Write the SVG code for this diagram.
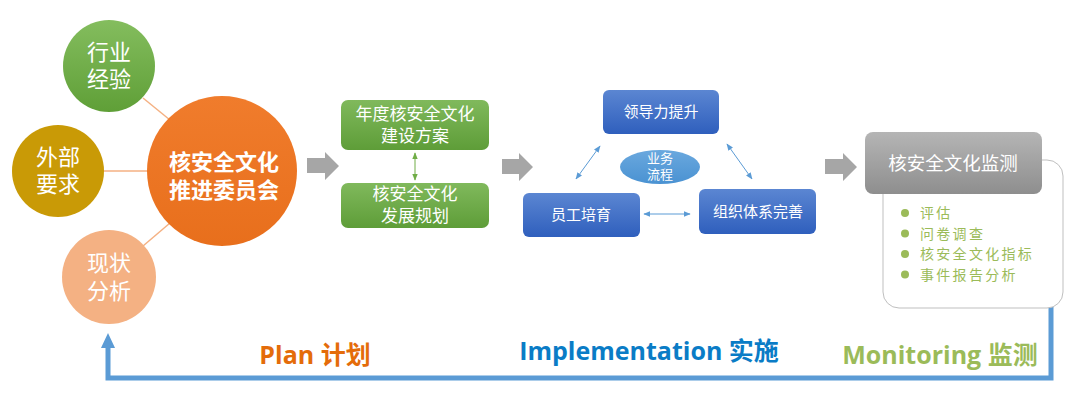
<svg xmlns="http://www.w3.org/2000/svg" width="1080" height="415" viewBox="0 0 1080 415">
<defs>
<linearGradient id="gGreen" x1="0" y1="0" x2="0" y2="1"><stop offset="0" stop-color="#84bd5e"/><stop offset="1" stop-color="#5f9f37"/></linearGradient>
<linearGradient id="gOrange" x1="0" y1="0" x2="0" y2="1"><stop offset="0" stop-color="#f07c2c"/><stop offset="1" stop-color="#e86f1c"/></linearGradient>
<linearGradient id="gBox" x1="0" y1="0" x2="0" y2="1"><stop offset="0" stop-color="#80b95c"/><stop offset="1" stop-color="#5e9d38"/></linearGradient>
<linearGradient id="gBlue" x1="0" y1="0" x2="0" y2="1"><stop offset="0" stop-color="#5b86d2"/><stop offset="1" stop-color="#2f5fbd"/></linearGradient>
<linearGradient id="gEll" x1="0" y1="0" x2="0" y2="1"><stop offset="0" stop-color="#6aa8de"/><stop offset="1" stop-color="#4a92d2"/></linearGradient>
<linearGradient id="gGray" x1="0" y1="0" x2="0" y2="1"><stop offset="0" stop-color="#b5b5b5"/><stop offset="1" stop-color="#8e8e8e"/></linearGradient>
<marker id="mb" viewBox="0 0 10 10" refX="9" refY="5" markerWidth="7" markerHeight="7" orient="auto-start-reverse"><path d="M0,1 L10,5 L0,9 Z" fill="#5b9bd5"/></marker>
<marker id="mg" viewBox="0 0 10 10" refX="9" refY="5" markerWidth="7" markerHeight="7" orient="auto-start-reverse"><path d="M0,1 L10,5 L0,9 Z" fill="#70ad47"/></marker>
</defs>
<style>
text{font-family:"Noto Sans CJK SC","Noto Sans",sans-serif;text-anchor:middle}
.cw{fill:#fff;font-size:22px}
.cb{fill:#fff;font-size:22px;font-weight:bold}
.bx{fill:#fff;font-size:17px}
.bl{fill:#fff;font-size:15px}
.it{fill:#9bbb59;font-size:14px;letter-spacing:2.3px;text-anchor:start}
.lab{font-family:"Open Sans","Noto Sans CJK SC",sans-serif;font-weight:bold;font-size:25px}
.ga{fill:#a6a6a6}
.bc{stroke:#5b9bd5;stroke-width:1;fill:none;marker-start:url(#mb);marker-end:url(#mb)}
</style>
<g id="connectors">
<line x1="143" y1="98" x2="170" y2="120" stroke="#f4b183" stroke-width="1.5"/>
<line x1="104" y1="171" x2="150" y2="171" stroke="#f4b183" stroke-width="1.5"/>
<line x1="143" y1="246" x2="170" y2="223" stroke="#f4b183" stroke-width="1.5"/>
<polygon class="ga" points="307,158 325,158 325,152 339,166 325,180 325,173 307,173"/>
<polygon class="ga" points="502,159 519,159 519,153 533,167 519,181 519,174 502,174"/>
<polygon class="ga" points="825,159 843,159 843,153 857,167 843,181 843,174 825,174"/>
<line x1="415" y1="153" x2="415" y2="180" stroke="#70ad47" stroke-width="1" marker-start="url(#mg)" marker-end="url(#mg)"/>
<line class="bc" x1="600" y1="146" x2="576" y2="179"/>
<line class="bc" x1="727" y1="144" x2="752" y2="179"/>
<line class="bc" x1="644" y1="214" x2="690" y2="214"/>
<path d="M1051,306 V378 H108 V346" fill="none" stroke="#5b9bd5" stroke-width="5"/>
<polygon points="101,348 115,348 108,333" fill="#5b9bd5"/>
</g>
<g id="n-hangye"><circle cx="109" cy="66" r="46" fill="url(#gGreen)"/><text class="cw" x="109" y="60">行业</text><text class="cw" x="109" y="87">经验</text></g>
<g id="n-waibu"><circle cx="58" cy="171" r="46" fill="#c99a06"/><text class="cw" x="58" y="165">外部</text><text class="cw" x="58" y="192">要求</text></g>
<g id="n-xianzhuang"><circle cx="109" cy="277" r="47" fill="#f4b183"/><text class="cw" x="109" y="271">现状</text><text class="cw" x="109" y="299">分析</text></g>
<g id="n-main"><circle cx="222" cy="171" r="75" fill="url(#gOrange)"/><text class="cb" x="224" y="170">核安全文化</text><text class="cb" x="224" y="198">推进委员会</text></g>
<g id="n-plan1"><rect x="341" y="100" width="148" height="50" rx="7" fill="url(#gBox)"/><text class="bx" x="415" y="120">年度核安全文化</text><text class="bx" x="415" y="142">建设方案</text></g>
<g id="n-plan2"><rect x="341" y="183" width="148" height="45" rx="7" fill="url(#gBox)"/><text class="bx" x="415" y="200">核安全文化</text><text class="bx" x="415" y="222">发展规划</text></g>
<g id="n-lead"><rect x="603" y="90" width="116" height="44" rx="6" fill="url(#gBlue)"/><text class="bl" x="661" y="117">领导力提升</text></g>
<g id="n-staff"><rect x="523" y="193" width="117" height="44" rx="6" fill="url(#gBlue)"/><text class="bl" x="581" y="220">员工培育</text></g>
<g id="n-org"><rect x="699" y="189" width="117" height="45" rx="6" fill="url(#gBlue)"/><text class="bl" x="758" y="217">组织体系完善</text></g>
<g id="n-flow"><ellipse cx="660" cy="167" rx="40" ry="17" fill="url(#gEll)"/><text x="660" y="163" fill="#fff" font-size="13">业务</text><text x="660" y="179" fill="#fff" font-size="13">流程</text></g>
<g id="n-monitor">
<rect x="883" y="160" width="180" height="148" rx="16" fill="#fff" stroke="#bfbfbf" stroke-width="1"/>
<rect x="865" y="132" width="177" height="62" rx="8" fill="url(#gGray)"/>
<text x="953" y="170" fill="#fff" font-size="18.5px">核安全文化监测</text>
<g fill="#9bbb59"><circle cx="905" cy="213" r="4"/><circle cx="905" cy="233.5" r="4"/><circle cx="905" cy="254" r="4"/><circle cx="905" cy="274.5" r="4"/></g>
<text class="it" x="920" y="218">评估</text>
<text class="it" x="920" y="238.5">问卷调查</text>
<text class="it" x="920" y="259">核安全文化指标</text>
<text class="it" x="920" y="279.5">事件报告分析</text>
</g>
<g id="labels">
<text class="lab" x="315" y="364" fill="#e46c0a">Plan 计划</text>
<text class="lab" x="649" y="360" fill="#0a7cc6">Implementation 实施</text>
<text class="lab" x="940" y="364" fill="#9bbb59">Monitoring 监测</text>
</g>
</svg>
